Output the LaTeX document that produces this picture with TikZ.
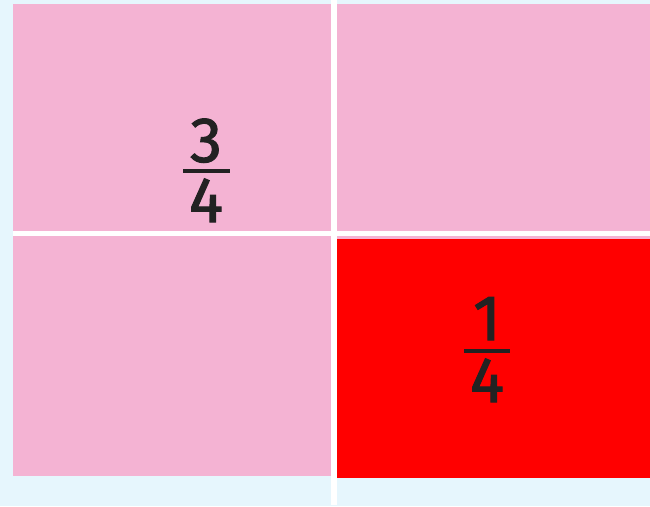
\documentclass[tikz,border=0pt]{standalone}
\usepackage{fontspec}
\setmainfont{Fira Sans}
\newfontfamily\digitfont{Fira Sans}[FakeBold=1.6]
\definecolor{bgblue}{HTML}{E6F6FD}
\definecolor{pinkc}{HTML}{F4B3D3}
\definecolor{redc}{HTML}{FF0000}
\definecolor{ink}{HTML}{222222}
\tikzset{
  digit/.style={text=ink,font=\digitfont\fontsize{64}{64}\selectfont,inner sep=0pt,anchor=base},
  fracbar/.style={draw=ink,line width=4pt},
}
\begin{document}
\begin{tikzpicture}[x=1pt,y=-1pt]
\fill[bgblue] (0,0) rectangle (650,506);
\useasboundingbox (0,0) rectangle (650,506);
\fill[white] (331,0) rectangle (337,505);
\fill[white] (13,231) rectangle (650,236);
\fill[pinkc] (13,4) rectangle (331,231);
\fill[pinkc] (337,4) rectangle (650,231);
\fill[pinkc] (13,236) rectangle (331,476);
\fill[pinkc] (337,236) rectangle (650,239);
\fill[redc] (337,239) rectangle (650,478);
% 3/4
\node[digit] (numA) at (206,162) {3};
\coordinate (barAl) at (183,171);
\coordinate (barAr) at (230,171);
\draw[fracbar] (barAl) -- (barAr);
\node[digit] (denA) at (206,222) {4};
% 1/4
\node[digit] (numB) at (487,340) {1};
\coordinate (barBl) at (464,351);
\coordinate (barBr) at (510,351);
\draw[fracbar] (barBl) -- (barBr);
\node[digit] (denB) at (487,402) {4};
\end{tikzpicture}
\end{document}
